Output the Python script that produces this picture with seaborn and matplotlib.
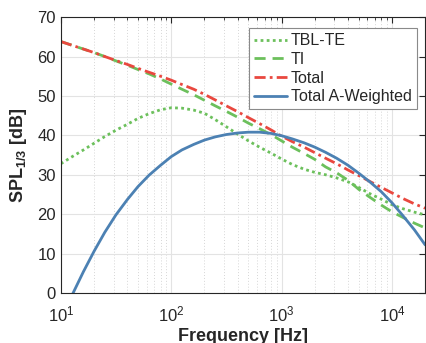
import numpy as np
import pandas as pd
import matplotlib
matplotlib.use("Agg")
import matplotlib.pyplot as plt
import seaborn as sns

# 1/3 octave band centre frequencies [Hz]
freq = [10, 12.5, 16, 20, 25, 31.5, 40, 50, 63, 80,
        100, 125, 160, 200, 250, 315, 400, 500, 630, 800,
        1000, 1250, 1600, 2000, 2500, 3150, 4000, 5000, 6300, 8000,
        10000, 12500, 16000, 20000]

# values [dB]
tbl_te = [32.8, 34.5, 36.3, 38.0, 39.7, 41.3, 42.8, 44.3, 45.5, 46.5,
          47.0, 46.9, 46.4, 45.6, 44.0, 42.2, 40.3, 38.6, 37.0, 35.5,
          34.0, 32.6, 31.4, 30.6, 30.0, 29.2, 28.2, 26.8, 25.2, 23.8,
          22.4, 21.4, 20.5, 19.8]
ti = [63.8, 62.9, 61.9, 61.0, 60.0, 58.9, 57.8, 56.7, 55.6, 54.3,
      53.0, 51.7, 50.3, 48.9, 47.5, 46.1, 44.6, 43.1, 41.7, 40.2,
      38.6, 37.0, 35.4, 33.9, 32.0, 30.5, 28.6, 26.3, 24.3, 22.3,
      20.6, 19.2, 17.7, 16.5]
total = [63.8, 62.9, 61.9, 61.0, 60.0, 59.0, 58.0, 57.0, 56.0, 55.0,
         54.0, 52.9, 51.7, 50.4, 49.0, 47.5, 46.0, 44.5, 43.0, 41.4,
         39.8, 38.4, 37.0, 35.6, 34.2, 32.8, 31.2, 29.8, 28.3, 26.8,
         25.4, 24.0, 22.6, 21.5]
total_a = [-7.0, -0.8, 5.4, 10.6, 15.4, 19.8, 23.7, 27.0, 29.9, 32.4,
           34.6, 36.3, 37.7, 38.8, 39.6, 40.2, 40.6, 40.8, 40.8, 40.5,
           39.9, 39.1, 38.1, 37.0, 35.7, 34.2, 32.4, 30.4, 28.2, 25.7,
           22.9, 19.7, 16.0, 12.2]

df = pd.DataFrame({"freq": freq, "TBL-TE": tbl_te, "TI": ti,
                   "Total": total, "Total A-Weighted": total_a})

sns.set_style("white")
plt.rcParams["font.family"] = ["Liberation Sans", "DejaVu Sans"]
plt.rcParams["mathtext.fontset"] = "custom"
plt.rcParams["mathtext.rm"] = "Liberation Sans"
plt.rcParams["mathtext.bf"] = "Liberation Sans:bold"

fig = plt.figure(figsize=(4.26, 3.43), dpi=100)
ax = fig.add_axes([0.143, 0.146, 0.855, 0.804])

styles = {
    "TBL-TE": dict(color="#6cc05c", linestyle=(0, (1, 1.2))),
    "TI": dict(color="#6cc05c", linestyle=(0, (4, 2.5))),
    "Total": dict(color="#e9483f", linestyle=(0, (4, 1.5, 1, 1.5))),
    "Total A-Weighted": dict(color="#4c81b3", linestyle="-"),
}
for name, st in styles.items():
    sns.lineplot(data=df, x="freq", y=name, ax=ax, label=name,
                 linewidth=2, **st)

ax.set_xscale("log")
ax.set_xlim(10, 20000)
ax.set_ylim(0, 70)
ax.set_yticks(range(0, 71, 10))

ax.grid(True, which="major", color="#e3e3e3", linewidth=0.8, linestyle="-")
ax.grid(True, which="minor", axis="x", color="#d6d6d6", linewidth=0.7,
        linestyle=(0, (1, 2)))
ax.set_axisbelow(True)

ax.tick_params(which="both", direction="in", top=True, right=True,
               labelsize=12, colors="#262626")
ax.tick_params(which="major", length=4)
ax.tick_params(which="minor", length=2)
ax.tick_params(axis="x", which="major", pad=8)
for sp in ax.spines.values():
    sp.set_color("#262626")
    sp.set_linewidth(0.8)

ax.set_xlabel("Frequency [Hz]", fontsize=13, fontweight="bold", labelpad=3)
plt.rcParams["mathtext.default"] = "bf"
ax.set_ylabel(r"SPL$_{1/3}$ [dB]", fontsize=13, fontweight="bold", labelpad=6)

leg = ax.legend(loc="upper right", fontsize=11.5, frameon=True, fancybox=False,
                edgecolor="#8a8a8a", framealpha=1, handlelength=2.1,
                borderpad=0.3, labelspacing=0.23, handletextpad=0.25,
                borderaxespad=0, bbox_to_anchor=(0.977, 0.959))
leg.get_frame().set_linewidth(0.8)

fig.savefig("out.png", dpi=100)
